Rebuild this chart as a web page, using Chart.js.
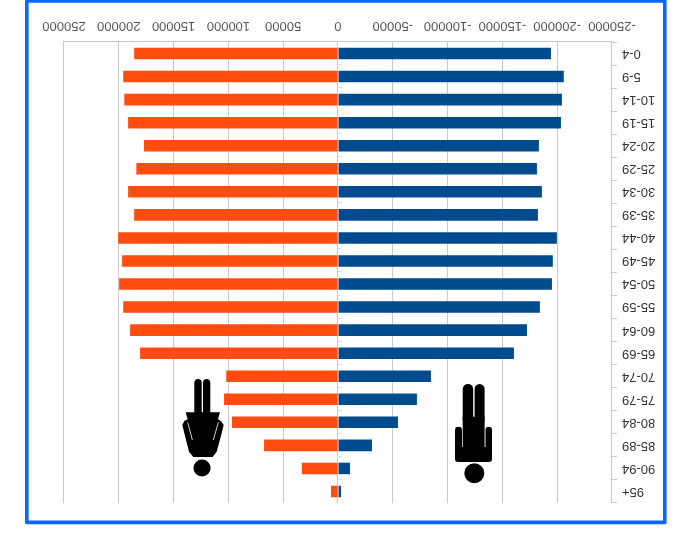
<!DOCTYPE html>
<html>
<head>
<meta charset="utf-8">
<style>
html,body{margin:0;padding:0;background:#fff;overflow:hidden}
#wrap{width:687px;height:541px;transform:rotate(180deg);transform-origin:50% 50%;filter:blur(0.4px)}
canvas{display:block}
</style>
<script src="https://cdn.jsdelivr.net/npm/chart.js@4/dist/chart.umd.min.js"></script>
</head>
<body>
<div id="wrap"><canvas id="c" width="687" height="541"></canvas></div>
<script>
const categories = ["0-4","5-9","10-14","15-19","20-24","25-29","30-34","35-39","40-44","45-49","50-54","55-59","60-64","65-69","70-74","75-79","80-84","85-89","90-94","95+"];
const male = [-194300,-206000,-204300,-203400,-183300,-181500,-186000,-182400,-199700,-196000,-195200,-184200,-172400,-160500,-84800,-72000,-54700,-31000,-11000,-2700];
const female = [186000,196000,195000,191500,177000,184000,191500,186000,200600,197000,199700,196000,189700,180600,102000,104000,96700,67500,33000,6400];
const axisMin = -250000, axisMax = 250000, axisStep = 50000;

const GRID = '#c9c9c9';
function poly(ctx, pts, map){
  ctx.beginPath();
  pts.forEach((p,i)=>{const q=map(p); i?ctx.lineTo(q[0],q[1]):ctx.moveTo(q[0],q[1]);});
  ctx.closePath(); ctx.fill();
}
function capsule(ctx,x0,y0,x1,y1){
  const r=Math.min(x1-x0,y1-y0)/2;
  ctx.beginPath(); ctx.roundRect(x0,y0,x1-x0,y1-y0,r); ctx.fill();
}
const decor = {
  id:'decor',
  afterDatasetsDraw(chart){
    const ctx=chart.ctx, s=chart.scales.y, x=chart.scales.x;
    ctx.save();
    ctx.strokeStyle='#dcdcdc'; ctx.lineWidth=1;
    const z=Math.round(x.getPixelForValue(0))+0.5;
    const step=(s.bottom-s.top)/categories.length;
    for(let i=1;i<categories.length;i++){
      const yy=Math.round(s.top+i*step)+0.5;
      ctx.beginPath(); ctx.moveTo(z-4,yy); ctx.lineTo(z,yy); ctx.stroke();
    }
    ctx.restore();
    // artwork is described in the picture's upside-down frame
    ctx.save();
    ctx.translate(687,541); ctx.rotate(Math.PI);
    ctx.strokeStyle='#0a66ff'; ctx.lineWidth=3.6; ctx.lineJoin='round';
    ctx.strokeRect(26.8,1,638,521.4);
    ctx.fillStyle='#000';
    // female figure
    const f=p=>[175+p[0]/3,375+p[1]/3];
    ctx.beginPath(); ctx.arc(202,468,8.6,0,Math.PI*2); ctx.fill();
    capsule(ctx,194.3,379,201.7,416); capsule(ctx,203,379,210.3,416);
    poly(ctx,[[32,112],[135,112],[129,133],[138,138],[146,150],[140,175],[125,230],[113,246],[55,246],[42,230],[28,175],[22,150],[28,138],[38,133]],f);
    ctx.strokeStyle='#e8e8e8'; ctx.lineWidth=0.9;
    [[[38,142],[52,195]],[[130,142],[115,195]]].forEach(l=>{
      const a=f(l[0]),b=f(l[1]); ctx.beginPath(); ctx.moveTo(a[0],a[1]); ctx.lineTo(b[0],b[1]); ctx.stroke();
    });
    // male figure
    ctx.fillStyle='#000';
    ctx.beginPath(); ctx.arc(474.3,473.3,10,0,Math.PI*2); ctx.fill();
    capsule(ctx,462.7,384,473.2,425); capsule(ctx,474.6,384,484.6,425);
    ctx.fillRect(462.7,416.7,21.9,44);
    capsule(ctx,455,426.7,462,455); capsule(ctx,485.5,426.7,492,455);
    ctx.beginPath(); ctx.roundRect(455,447,37,15,3); ctx.fill();
    ctx.restore();
  }
};
const whiteBg = {
  id:'whiteBg',
  beforeDraw(chart){ const c=chart.ctx; c.save(); c.fillStyle='#fff'; c.fillRect(0,0,chart.width,chart.height); c.restore(); }
};

new Chart(document.getElementById('c'),{
  type:'bar',
  data:{
    labels:categories,
    datasets:[
      {label:'Male',data:male,backgroundColor:'#004b8d',barPercentage:0.5,categoryPercentage:1},
      {label:'Female',data:female,backgroundColor:'#ff4d12',barPercentage:0.5,categoryPercentage:1}
    ]
  },
  options:{
    indexAxis:'y',
    responsive:false,
    animation:false,
    devicePixelRatio:1,
    layout:{padding:{top:38,right:64,left:0,bottom:0}},
    plugins:{legend:{display:false},title:{display:false},tooltip:{enabled:false}},
    scales:{
      x:{
        stacked:true,min:axisMin,max:axisMax,
        afterFit(s){s.height=42;},
        grid:{color:GRID,lineWidth:1,drawTicks:false},
        border:{color:GRID,width:1},
        ticks:{stepSize:axisStep,maxRotation:0,padding:9,color:'#555',font:{family:'Liberation Sans',size:13},callback:v=>String(v)}
      },
      y:{
        stacked:true,reverse:true,
        afterFit(s){s.width=75;},
        grid:{drawOnChartArea:false,color:GRID,tickLength:5,offset:true},
        border:{color:GRID,width:1},
        ticks:{padding:5,color:'#333',autoSkip:false,font:{family:'Liberation Sans',size:13}}
      }
    }
  },
  plugins:[whiteBg,decor]
});
</script>
</body>
</html>
